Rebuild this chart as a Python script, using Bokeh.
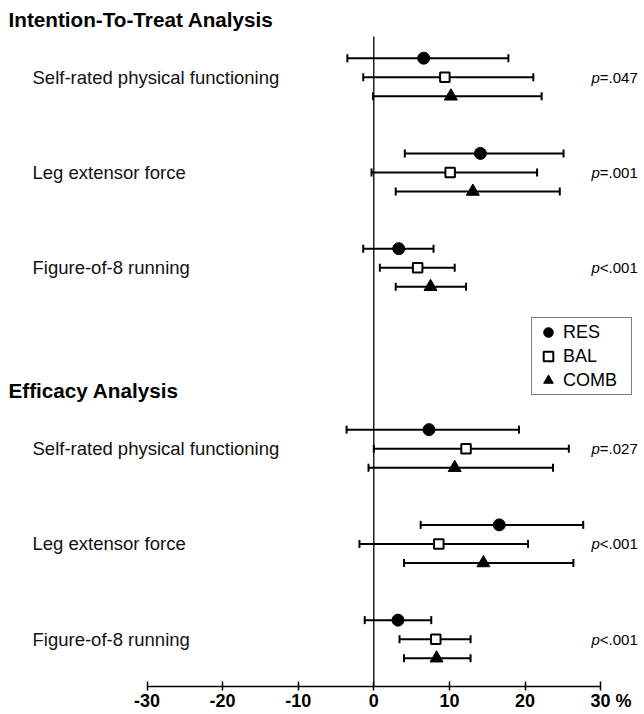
from bokeh.plotting import figure
from bokeh.models import (Range1d, FixedTicker, Whisker, TeeHead, ColumnDataSource,
                          Legend, LegendItem, Label)
from bokeh.core.properties import value
from bokeh.embed import file_html
from bokeh.resources import INLINE

# ---------------- data ----------------
section_titles = ["Intention-To-Treat Analysis", "Efficacy Analysis"]
outcomes = ["Self-rated physical functioning", "Leg extensor force", "Figure-of-8 running"]
groups = ["RES", "BAL", "COMB"]

# Intention-to-treat (per outcome: self-rated, leg force, figure-8)
itt_res_mean = [6.6, 14.1, 3.3]
itt_res_low = [-3.5, 4.1, -1.4]
itt_res_high = [17.8, 25.1, 7.9]
itt_bal_mean = [9.4, 10.1, 5.8]
itt_bal_low = [-1.4, -0.3, 0.8]
itt_bal_high = [21.1, 21.6, 10.7]
itt_comb_mean = [10.2, 13.1, 7.5]
itt_comb_low = [-0.1, 2.9, 2.9]
itt_comb_high = [22.2, 24.6, 12.2]

# Efficacy analysis
eff_res_mean = [7.3, 16.6, 3.2]
eff_res_low = [-3.6, 6.2, -1.2]
eff_res_high = [19.2, 27.7, 7.6]
eff_bal_mean = [12.2, 8.6, 8.2]
eff_bal_low = [0.0, -1.9, 3.4]
eff_bal_high = [25.8, 20.4, 12.8]
eff_comb_mean = [10.7, 14.5, 8.3]
eff_comb_low = [-0.7, 4.0, 4.0]
eff_comb_high = [23.7, 26.4, 12.8]

itt_p_sign = ["=", "=", "<"]
itt_p_value = [".047", ".001", ".001"]
eff_p_sign = ["=", "<", "<"]
eff_p_value = [".027", ".001", ".001"]

tick_values = [-30, -20, -10, 0, 10, 20, 30]
tick_labels = ["-30", "-20", "-10", "0", "10", "20", "30"]
axis_unit = "%"

# ---------------- layout helpers ----------------
W, H = 644, 714
PX_PER_UNIT = 7.56
x_start = -373.3 / PX_PER_UNIT
x_end = x_start + W / PX_PER_UNIT
px = 1.0 / PX_PER_UNIT           # one screen pixel in x data units

ROW_PX = 19.05
BASE = 76.7                      # screen y of row 0
y_top = -BASE / ROW_PX
y_bottom = (H - BASE) / ROW_PX
axis_y = (686 - BASE) / ROW_PX   # axis sits a little below the last row

section_start = [0.0, 19.5]
group_step = 5.0
member_offset = {"RES": -1.0, "BAL": 0.0, "COMB": 1.0}
title_offset = -3.05
zero_line_top = -2.14

data = {
    "RES": (itt_res_mean + eff_res_mean, itt_res_low + eff_res_low, itt_res_high + eff_res_high),
    "BAL": (itt_bal_mean + eff_bal_mean, itt_bal_low + eff_bal_low, itt_bal_high + eff_bal_high),
    "COMB": (itt_comb_mean + eff_comb_mean, itt_comb_low + eff_comb_low, itt_comb_high + eff_comb_high),
}

row_centers = [s + i * group_step for s in section_start for i in range(len(outcomes))]

p = figure(width=W, height=H, x_range=Range1d(x_start, x_end),
           y_range=Range1d(y_bottom, y_top), y_axis_location=None,
           toolbar_location=None, output_backend="svg",
           min_border_left=0, min_border_right=0, min_border_top=0, min_border_bottom=0,
           outline_line_color=None, background_fill_color="white", border_fill_color="white")
p.grid.visible = False

FONT = value("Liberation Sans")

# zero reference line
p.segment(x0=[0], y0=[zero_line_top], x1=[0], y1=[axis_y], line_color="black", line_width=1.3)

# error bars and markers
marker_style = {
    "RES": dict(marker="circle", size=12, fill_color="black", line_color="black", line_width=1),
    "BAL": dict(marker="square", size=9.5, fill_color="white", line_color="black", line_width=2),
    "COMB": dict(marker="triangle", size=13, fill_color="black", line_color="black", line_width=1),
}
renderers = {}
for g in groups:
    mean, low, high = data[g]
    ys = [c + member_offset[g] for c in row_centers]
    src = ColumnDataSource(dict(x=mean, lo=low, hi=high, y=ys))
    wk = Whisker(source=src, base="y", lower="lo", upper="hi", dimension="width",
                 line_color="black", line_width=2, level="underlay",
                 lower_head=TeeHead(size=8, line_width=2, line_color="black"),
                 upper_head=TeeHead(size=8, line_width=2, line_color="black"))
    p.add_layout(wk)
    renderers[g] = p.scatter(x="x", y="y", source=src, **marker_style[g])

# section titles
p.text(x=[x_start + 8 * px] * 2, y=[s + title_offset for s in section_start], text=section_titles,
       text_font=FONT, text_font_size="20.7px", text_font_style="bold",
       text_baseline="middle", text_align="left", text_color="black")

# outcome labels
p.text(x=[x_start + 32 * px] * len(row_centers), y=row_centers,
       text=outcomes * len(section_start), text_font=FONT, text_font_size="18.5px",
       text_baseline="middle", text_align="left", text_color="#111111")

# p values
p_x = x_start + 591 * px
p.text(x=[p_x] * len(row_centers), y=row_centers, text=["p"] * len(row_centers),
       text_font=FONT, text_font_size="15px", text_font_style="italic",
       text_baseline="middle", text_align="left", text_color="black")
p.text(x=[p_x + 8.3 * px] * len(row_centers), y=row_centers,
       text=[s + v for s, v in zip(itt_p_sign + eff_p_sign, itt_p_value + eff_p_value)],
       text_font=FONT, text_font_size="15px",
       text_baseline="middle", text_align="left", text_color="black")

# x axis
ax = p.xaxis[0]
ax.fixed_location = axis_y
ax.ticker = FixedTicker(ticks=tick_values)
ax.major_label_overrides = {t: l for t, l in zip(tick_values, tick_labels)}
ax.bounds = (tick_values[0], tick_values[-1])
ax.major_label_text_font = "Liberation Sans"
ax.major_label_text_font_size = "18px"
ax.major_label_text_font_style = "bold"
ax.major_label_text_color = "black"
ax.major_label_standoff = 3
ax.major_tick_in = 5
ax.major_tick_out = 4
ax.minor_tick_line_color = None
ax.axis_line_width = 1.5
ax.axis_line_color = "black"
ax.major_tick_line_width = 1.5
ax.major_tick_line_color = "black"

p.add_layout(Label(x=tick_values[-1], y=axis_y, x_offset=15, y_offset=-4, text=axis_unit,
                   text_font="Liberation Sans", text_font_size="18px", text_font_style="bold",
                   text_baseline="top", text_align="left", text_color="black"))

# legend
legend = Legend(items=[LegendItem(label=g, renderers=[renderers[g]]) for g in groups],
                location=(531, H - 395), orientation="vertical",
                glyph_width=28, glyph_height=24, spacing=0, padding=2, label_standoff=1,
                label_width=66, label_height=20,
                label_text_font="Liberation Sans", label_text_font_size="18px",
                label_text_color="black", border_line_color="black", border_line_width=1.3,
                background_fill_color="white", background_fill_alpha=1.0, margin=0)
p.add_layout(legend)

open("out.html", "w").write(file_html(p, INLINE))
